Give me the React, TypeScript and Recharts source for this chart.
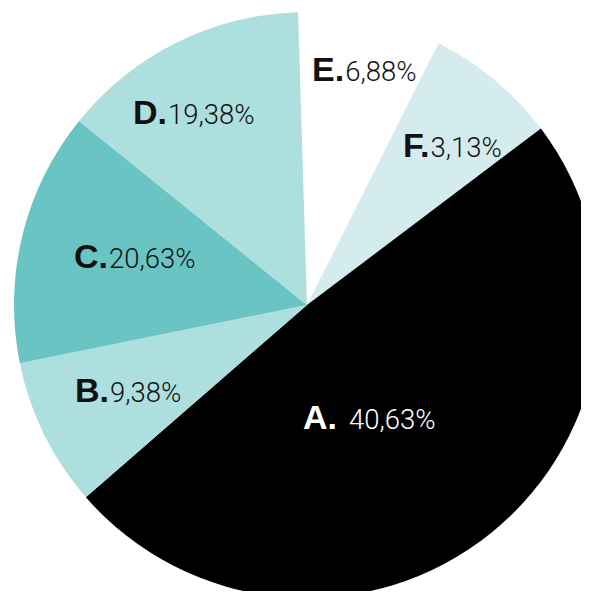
import { PieChart, Pie, Cell } from "recharts";

// slice order, clockwise from just left of 12 o'clock
const categories = ["E", "F", "A", "B", "C", "D"];
const shareLabels = ["6,88%", "3,13%", "40,63%", "9,38%", "20,63%", "19,38%"];
// drawn share of the circle (%)
const drawnShares = [7.9, 7.3, 48.9, 8.2, 14.0, 13.7];

const colors = ["#ffffff", "#d4eced", "#000000", "#aedfdf", "#6bc4c4", "#aedfdf"];
const textColors = ["#111", "#111", "#fff", "#111", "#111", "#111"];

// label anchor (text start, baseline) relative to the pie centre
const labelOffsets: [number, number][] = [
  [5, -224],
  [96, -148],
  [-4, 124],
  [-232, 97],
  [-233, -37],
  [-174, -181],
];

const data = categories.map((name, i) => ({
  name,
  value: drawnShares[i],
  text: shareLabels[i],
}));

const renderLabel = (props: any) => {
  const { cx, cy, index } = props;
  const [dx, dy] = labelOffsets[index];
  const gap = categories[index] === "A" ? 12 : 1;
  return (
    <text x={cx + dx} y={cy + dy} fill={textColors[index]} textAnchor="start">
      <tspan fontFamily="'Liberation Sans', Arial, sans-serif" fontWeight={700} fontSize={34}>
        {categories[index]}.
      </tspan>
      <tspan dx={gap} fontFamily="Roboto, 'Liberation Sans', sans-serif" fontWeight={300} fontSize={27.5}>
        {data[index].text}
      </tspan>
    </text>
  );
};

export default function App() {
  return (
    <div style={{ margin: -8, width: 589, height: 599, overflow: "hidden", background: "#fff" }}>
      <PieChart width={589} height={599} margin={{ top: 0, right: 0, bottom: 0, left: 0 }}>
        <Pie
          data={data}
          dataKey="value"
          nameKey="name"
          cx={307}
          cy={305}
          outerRadius={293}
          startAngle={91.75}
          endAngle={-268.25}
          stroke="none"
          label={renderLabel}
          labelLine={false}
          isAnimationActive={false}
        >
          {data.map((d, i) => (
            <Cell key={d.name} fill={colors[i]} />
          ))}
        </Pie>
      </PieChart>
    </div>
  );
}
